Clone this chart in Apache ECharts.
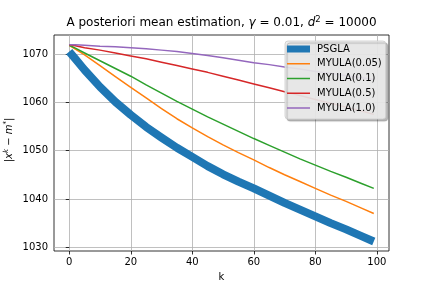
<!DOCTYPE html>
<html>
<head>
<meta charset="utf-8">
<script src="https://cdn.jsdelivr.net/npm/echarts@6/dist/echarts.min.js"></script>
<style>
html,body{margin:0;padding:0;background:#fff;}
#c{width:432px;height:288px;}
</style>
</head>
<body>
<div id="c"></div>
<script>
// ---- data ----
var k = [0, 2, 5, 10, 15, 20, 25, 30, 35, 40, 45, 50, 55, 60, 65, 70, 75, 80, 85, 90, 95, 99];
var psgla    = [1070.5, 1069.0, 1066.7, 1063.2, 1060.1, 1057.4, 1054.9, 1052.7, 1050.6, 1048.7, 1046.8, 1045.1, 1043.6, 1042.2, 1040.7, 1039.2, 1037.8, 1036.4, 1035.0, 1033.7, 1032.3, 1031.2];
var myula005 = [1071.8, 1071.0, 1069.8, 1067.6, 1065.3, 1063.1, 1060.9, 1058.7, 1056.6, 1054.7, 1052.9, 1051.2, 1049.6, 1048.1, 1046.5, 1045.0, 1043.6, 1042.2, 1040.8, 1039.5, 1038.1, 1037.0];
var myula01  = [1071.8, 1071.2, 1070.2, 1068.6, 1067.0, 1065.4, 1063.6, 1061.9, 1060.2, 1058.6, 1057.0, 1055.5, 1054.0, 1052.5, 1051.1, 1049.7, 1048.3, 1047.0, 1045.7, 1044.5, 1043.2, 1042.2];
var myula05  = [1071.9, 1071.7, 1071.3, 1070.8, 1070.2, 1069.6, 1069.0, 1068.3, 1067.6, 1066.9, 1066.2, 1065.4, 1064.6, 1063.8, 1063.0, 1062.2, 1061.4, 1060.6, 1059.8, 1059.0, 1058.2, 1057.5];
var myula10  = [1071.9, 1071.9, 1071.8, 1071.6, 1071.5, 1071.3, 1071.1, 1070.8, 1070.5, 1070.1, 1069.7, 1069.2, 1068.7, 1068.2, 1067.8, 1067.3, 1066.9, 1066.4, 1066.0, 1065.5, 1065.1, 1064.7];
var seriesNames = ['PSGLA', 'MYULA(0.05)', 'MYULA(0.1)', 'MYULA(0.5)', 'MYULA(1.0)'];
var xTicks = [0, 20, 40, 60, 80, 100];
var yTicks = [1030, 1040, 1050, 1060, 1070];

var colors = ['#1f77b4', '#ff7f0e', '#2ca02c', '#d62728', '#9467bd'];
var widths = [8, 1.5, 1.5, 1.5, 1.5];
var allSeries = [psgla, myula005, myula01, myula05, myula10];

function pairs(ys) { return k.map(function (x, i) { return [x, ys[i]]; }); }

var FONT = 'DejaVu Sans';
var chart = echarts.init(document.getElementById('c'), null, {renderer: 'canvas'});

var option = {
  animation: false,
  backgroundColor: '#fff',
  grid: {left: 54, right: 43, top: 35, bottom: 37, show: true, borderColor: '#000', borderWidth: 0.8, backgroundColor: 'transparent'},
  xAxis: {
    type: 'value', min: -4.95, max: 103.95,
    axisLine: {show: false},
    axisTick: {show: true, length: 3.5, lineStyle: {color: '#000', width: 0.8}, customValues: xTicks},
    axisLabel: {color: '#000', fontFamily: FONT, fontSize: 10, margin: 6, customValues: xTicks,
                formatter: function (v) { return String(v); }},
    splitLine: {show: true, lineStyle: {color: '#b0b0b0', width: 0.8}},
    name: 'k', nameLocation: 'middle', nameGap: 21,
    nameTextStyle: {color: '#000', fontFamily: FONT, fontSize: 10}
  },
  yAxis: {
    type: 'value', min: 1029.23, max: 1073.93,
    axisLine: {show: false},
    axisTick: {show: true, length: 3.5, lineStyle: {color: '#000', width: 0.8}, customValues: yTicks},
    axisLabel: {color: '#000', fontFamily: FONT, fontSize: 10, margin: 6, customValues: yTicks,
                formatter: function (v) { return String(v); }},
    splitLine: {show: true, lineStyle: {color: '#b0b0b0', width: 0.8}}
  },
  legend: {
    orient: 'vertical', left: 285, top: 41,
    itemWidth: 23, itemHeight: 7, itemGap: 4.75,
    symbolKeepAspect: true,
    padding: [3, 4, 6, 2],
    backgroundColor: 'rgba(236,236,236,0.9)',
    borderColor: '#cccccc', borderWidth: 0.8, borderRadius: 3,
    shadowColor: 'rgba(0,0,0,0.3)', shadowOffsetX: 2, shadowOffsetY: 2, shadowBlur: 1,
    itemStyle: {borderWidth: 0},
    textStyle: {color: '#000', fontFamily: FONT, fontSize: 10, lineHeight: 10, padding: [0, 0, 0, 2]},
    data: seriesNames.map(function (n, i) {
      return {name: n, icon: i === 0 ? 'path://M0 0H23V7H0Z' : 'path://M0 0H23V1.5H0Z'};
    })
  },
  graphic: [
    {
      type: 'text', x: 221.5, y: 23,
      style: {
        text: 'A posteriori mean estimation, {i|γ} = 0.01, {i|d}{sup|2} = 10000',
        fontFamily: FONT, fontSize: 12, fill: '#000',
        textAlign: 'center', textVerticalAlign: 'middle',
        rich: {
          i: {fontFamily: FONT, fontSize: 12, fontStyle: 'italic', fill: '#000'},
          sup: {fontFamily: FONT, fontSize: 8.5, fill: '#000', padding: [0, 0, 7, 0]}
        }
      }
    },
    {
      type: 'text', x: 9, y: 140, rotation: Math.PI / 2,
      style: {
        text: '|{i|x}{sup|k} − {i|m}{sup|*}|',
        fontFamily: FONT, fontSize: 10, fill: '#000',
        textAlign: 'center', textVerticalAlign: 'middle',
        rich: {
          i: {fontFamily: FONT, fontSize: 10, fontStyle: 'italic', fill: '#000'},
          sup: {fontFamily: FONT, fontSize: 7, fontStyle: 'italic', fill: '#000', padding: [0, 0, 6, 0]}
        }
      }
    }
  ],
  series: allSeries.map(function (ys, i) {
    return {
      name: seriesNames[i], type: 'line', data: pairs(ys),
      showSymbol: false, symbol: 'none', smooth: false,
      color: colors[i],
      lineStyle: {color: colors[i], width: widths[i], cap: 'butt', join: 'round'},
      emphasis: {disabled: true}
    };
  })
};
chart.setOption(option);
</script>
</body>
</html>
